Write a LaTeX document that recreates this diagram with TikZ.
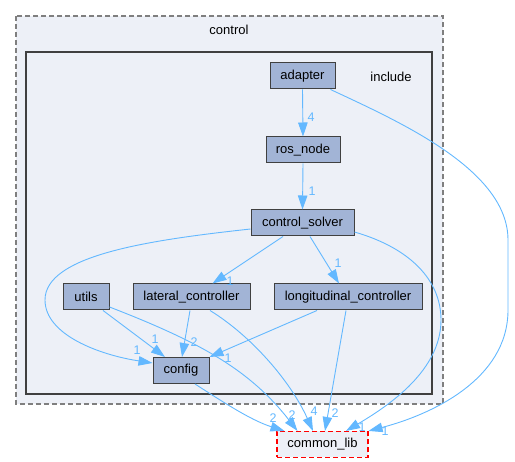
\documentclass[tikz,border=0pt]{standalone}
\usepackage{fontspec}
\setmainfont{Liberation Sans}
\usetikzlibrary{arrows.meta}
\definecolor{nodefill}{HTML}{A2B4D6}
\definecolor{nodeline}{HTML}{404040}
\definecolor{clusterfill}{HTML}{EDF0F7}
\definecolor{edgecol}{HTML}{63B8FF}
\definecolor{dashgrey}{HTML}{7F7F7F}
\definecolor{libred}{HTML}{FF0000}
\tikzset{
  dirbox/.style={draw=nodeline, fill=nodefill, line width=1pt, inner sep=0pt,
    minimum height=26pt, font=\fontsize{13}{15}\selectfont, text=black},
  extbox/.style={draw=libred, fill=clusterfill, dash pattern=on 5pt off 3pt, line width=1.1pt,
    inner sep=0pt, minimum height=26pt, font=\fontsize{13}{15}\selectfont, text=black},
  edge/.style={draw=edgecol, line width=0.9pt, -{Triangle[length=14pt,width=9.5pt]}},
  lbl/.style={text=edgecol, font=\fontsize{12.5}{13}\selectfont, inner sep=0pt},
  clabel/.style={font=\fontsize{13}{15}\selectfont, text=black, inner sep=0pt}
}
\begin{document}
\begin{tikzpicture}[x=1pt, y=-1pt]
\useasboundingbox (0,0) rectangle (515,462);
% clusters
\draw[dashgrey, fill=clusterfill, line width=1.2pt, dash pattern=on 5pt off 3pt] (16,16) rectangle (443,404);
\node[clabel] (ctrllabel) at (229,30) {control};
\draw[nodeline, fill=clusterfill, line width=2pt] (26,52) rectangle (432,394);
\node[clabel] (inclabel) at (391,77) {include};
% nodes
\node[dirbox, minimum width=65pt] (adapter) at (302.5,76) {adapter};
\node[dirbox, minimum width=74pt] (rosnode) at (303,150) {ros\_node};
\node[dirbox, minimum width=103pt] (solver) at (302.5,223) {control\_solver};
\node[dirbox, minimum width=148pt] (lon) at (348,297) {longitudinal\_controller};
\node[dirbox, minimum width=117pt] (lat) at (191.5,297) {lateral\_controller};
\node[dirbox, minimum width=46pt] (utils) at (86,297) {utils};
\node[dirbox, minimum width=56pt] (config) at (181,370.5) {config};
\node[extbox, minimum width=91pt] (common) at (322.5,444.5) {common\_lib};
% edges
\draw[edge] (adapter.south) -- (rosnode.north) node[lbl] at (311,117) {4};
\draw[edge] (rosnode.south) -- (solver.north) node[lbl] at (312,191) {1};
\draw[edge] ([xshift=-19.5pt]solver.south) -- ([xshift=21pt]lat.north) node[lbl] at (230,281) {1};
\draw[edge] ([xshift=7.5pt]solver.south) -- ([xshift=-9pt]lon.north) node[lbl] at (338,263) {1};
\draw[edge] ([yshift=-6pt]solver.west) .. controls (150,240) and (45,255) .. (45,300)
  .. controls (45,335) and (100,355) .. ([yshift=7.5pt]config.west) node[lbl] at (137,350) {1};
\draw[edge] ([yshift=-9pt]solver.east) .. controls (410,248) and (441,280) .. (441,320)
  .. controls (441,370) and (390,405) .. ([xshift=23.5pt]common.north) node[lbl] at (362,427) {1};
\draw[edge] ([xshift=-5pt]adapter.south east) .. controls (400,122) and (508,170) .. (508,240)
  -- (508,310) .. controls (508,380) and (430,415) .. (common.north east) node[lbl] at (385,431) {1};
\draw[edge] ([xshift=-1.5pt]lat.south) -- ([xshift=1pt]config.north) node[lbl] at (194,342) {2};
\draw[edge] ([xshift=18.5pt]lat.south) .. controls (250,335) and (290,380) .. ([xshift=-9.5pt]common.north) node[lbl] at (314,411) {4};
\draw[edge] ([xshift=-31pt]lon.south) -- (config.north east) node[lbl] at (228,358) {1};
\draw[edge] ([xshift=-2pt]lon.south) -- ([xshift=2.5pt]common.north) node[lbl] at (335,413) {2};
\draw[edge] ([xshift=17pt]utils.south) -- ([xshift=-16pt]config.north) node[lbl] at (155,339) {1};
\draw[edge] ([yshift=-10pt]utils.east) .. controls (200,342) and (250,370) .. ([xshift=-25pt]common.north) node[lbl] at (292,415) {2};
\draw[edge] ([xshift=14pt]config.south) .. controls (220,400) and (250,420) .. ([xshift=-38pt]common.north) node[lbl] at (273,418) {2};
\end{tikzpicture}
\end{document}
